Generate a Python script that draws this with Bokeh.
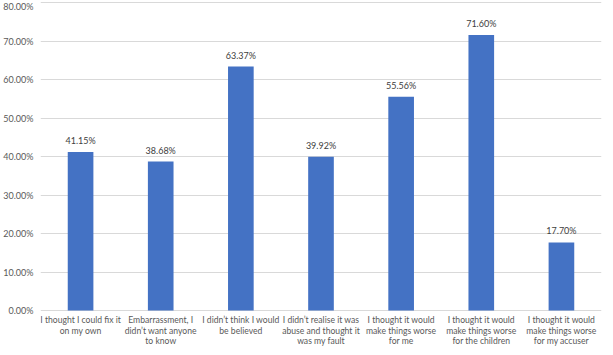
from bokeh.plotting import figure
from bokeh.models import ColumnDataSource, Range1d, NumeralTickFormatter, LabelSet, FixedTicker
from bokeh.core.properties import value
from bokeh.embed import file_html
from bokeh.resources import INLINE

categories = [
    "I thought I could fix it\non my own",
    "Embarrassment, I\ndidn\u2019t want anyone\nto know",
    "I didn\u2019t think I would\nbe believed",
    "I didn\u2019t realise it was\nabuse and thought it\nwas my fault",
    "I thought it would\nmake things worse\nfor me",
    "I thought it would\nmake things worse\nfor the children",
    "I thought it would\nmake things worse\nfor my accuser",
]
values = [0.4115, 0.3868, 0.6337, 0.3992, 0.5556, 0.7160, 0.1770]
value_labels = ["41.15%", "38.68%", "63.37%", "39.92%", "55.56%", "71.60%", "17.70%"]
y_ticks = [0.0, 0.1, 0.2, 0.3, 0.4, 0.5, 0.6, 0.7, 0.8]

FONT = "Lato"

split = [c.split("\n") for c in categories]
data = dict(cat=categories, val=values, lab=value_labels, base=[0.0] * len(categories))
for i in range(3):
    data[f"line{i}"] = [s[i] if i < len(s) else "" for s in split]
src = ColumnDataSource(data)

p = figure(x_range=categories, y_range=Range1d(-0.096, 0.8053), width=605, height=347,
           output_backend="svg", toolbar_location=None, x_axis_location=None,
           min_border_top=0, min_border_right=4, min_border_bottom=0, min_border_left=0)

p.vbar(x="cat", top="val", width=0.32, source=src, color="#4472C4", line_color=None)

labels = LabelSet(x="cat", y="val", text="lab", source=src, text_align="center",
                  text_baseline="bottom", y_offset=6, text_font_size=value("9px"),
                  text_color=value("#404040"), text_font=value(FONT))
p.add_layout(labels)

line_offsets = [-9.5, -20, -30.5]
for i in range(3):
    cl = LabelSet(x="cat", y="base", text=f"line{i}", source=src, text_align="center",
                  text_baseline="middle", y_offset=line_offsets[i],
                  text_font_size=value("8.6px"), text_color=value("#595959"),
                  text_font=value(FONT))
    p.add_layout(cl)

p.outline_line_color = None
p.background_fill_color = "white"
p.border_fill_color = "white"

p.xgrid.grid_line_color = None
p.ygrid.grid_line_color = "#d9d9d9"
p.ygrid.grid_line_width = 1

p.yaxis.ticker = FixedTicker(ticks=y_ticks)
p.yaxis.formatter = NumeralTickFormatter(format="0.00%")
p.yaxis.axis_line_color = None
p.yaxis.major_tick_line_color = None
p.yaxis.minor_tick_line_color = None
p.yaxis.major_tick_out = 0
p.yaxis.major_label_standoff = 7
p.yaxis.major_label_text_font_size = "9px"
p.yaxis.major_label_text_color = "#595959"
p.yaxis.major_label_text_font = FONT

open("out.html", "w").write(file_html(p, INLINE))
